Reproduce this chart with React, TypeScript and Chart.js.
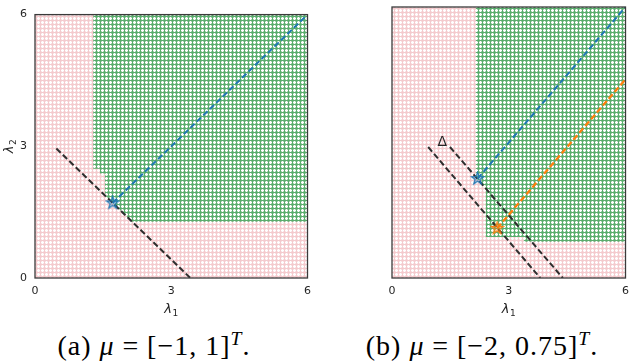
import React, { useEffect, useRef } from 'react';
import { Chart, registerables } from 'chart.js';

Chart.register(...registerables);

// ---------- data ----------
const AXIS_RANGE = [0, 6];
const TICK_VALUES = [0, 3, 6];
const FULL_REGION_TOP = [{ x: 0, y: 6 }, { x: 6, y: 6 }];
const X_TITLE = { base: 'λ', sub: '1' };
const Y_TITLE = { base: 'λ', sub: '2' };

// (a) mu = [-1, 1]^T
const leftGreenBoundary = [
  { x: 1.28, y: 2.49 }, { x: 1.43, y: 2.49 }, { x: 1.43, y: 2.38 }, { x: 1.54, y: 2.38 },
  { x: 1.54, y: 1.88 }, { x: 2.14, y: 1.28 }, { x: 6, y: 1.28 },
];
const leftLevelLine = [{ x: 0.47, y: 2.95 }, { x: 3.42, y: 0 }];
const leftOptimum = [{ x: 1.71, y: 1.71 }];
const leftPath = [{ x: 1.71, y: 1.71 }, { x: 6, y: 6 }];

// (b) mu = [-2, 0.75]^T
const rightGreenBoundary = [
  { x: 2.15, y: 2.17 }, { x: 2.3, y: 2.17 }, { x: 2.3, y: 2.05 }, { x: 2.41, y: 2.05 },
  { x: 2.41, y: 0.91 }, { x: 3.39, y: 0.91 }, { x: 3.39, y: 0.8 }, { x: 6, y: 0.8 },
];
const rightUpperLine = [{ x: 1.49, y: 2.9 }, { x: 4.39, y: 0 }];
const rightLowerLine = [{ x: 0.93, y: 2.9 }, { x: 3.81, y: 0 }];
const rightBlueOptimum = [{ x: 2.2, y: 2.2 }];
const rightBluePath = [{ x: 2.2, y: 2.2 }, { x: 6, y: 6 }];
const rightOrangeOptimum = [{ x: 2.7, y: 1.1 }];
const rightOrangePath = [{ x: 2.7, y: 1.1 }, { x: 6, y: 4.4 }];
const rightAnnotations = [{ x: 1.29, y: 3.01, text: 'Δ' }];

// ---------- styles ----------
const BLUE = '#1f77b4';
const ORANGE = '#ff7f0e';
const DARK = '#2e2e2e';
const GREEN = '#5aad6d';
const PINK = '#f4cbce';
const TEXT = '#262626';

function makePattern(color: string): CanvasPattern {
  const c = document.createElement('canvas');
  c.width = 4;
  c.height = 4;
  const g = c.getContext('2d')!;
  g.fillStyle = color;
  g.fillRect(0, 0, 4, 4);
  g.fillStyle = '#ffffff';
  g.fillRect(2, 1, 1, 3);
  g.fillRect(1, 2, 3, 1);
  g.fillStyle = 'rgba(255,255,255,0.45)';
  g.fillRect(1, 1, 1, 1);
  g.fillRect(3, 1, 1, 1);
  g.fillRect(1, 3, 1, 1);
  g.fillRect(3, 3, 1, 1);
  return g.createPattern(c, 'repeat')!;
}

function makeStar(stroke: string, fill: string): HTMLCanvasElement {
  const s = 15;
  const c = document.createElement('canvas');
  c.width = s;
  c.height = s;
  const g = c.getContext('2d')!;
  g.beginPath();
  for (let i = 0; i < 10; i++) {
    const r = i % 2 === 0 ? 6.5 : 2.6;
    const a = -Math.PI / 2 + (i * Math.PI) / 5;
    const px = s / 2 + r * Math.cos(a);
    const py = s / 2 + r * Math.sin(a);
    if (i === 0) g.moveTo(px, py);
    else g.lineTo(px, py);
  }
  g.closePath();
  g.fillStyle = fill;
  g.fill();
  g.strokeStyle = stroke;
  g.lineWidth = 1.2;
  g.stroke();
  return c;
}

function drawSubscripted(ctx: any, t: { base: string; sub: string }, x: number, y: number, rot: number) {
  ctx.save();
  ctx.translate(x, y);
  ctx.rotate(rot);
  ctx.fillStyle = TEXT;
  ctx.textBaseline = 'alphabetic';
  ctx.textAlign = 'left';
  const baseFont = 'italic 13px "DejaVu Sans"';
  const subFont = '9px "DejaVu Sans"';
  ctx.font = baseFont;
  const wb = ctx.measureText(t.base).width;
  ctx.font = subFont;
  const ws = ctx.measureText(t.sub).width;
  const total = wb + ws + 0.5;
  ctx.font = baseFont;
  ctx.fillText(t.base, -total / 2, 4);
  ctx.font = subFont;
  ctx.fillText(t.sub, -total / 2 + wb + 0.5, 7);
  ctx.restore();
}

const framePlugin = {
  id: 'frame',
  afterDraw(chart: any, _a: any, opts: any) {
    const { ctx, chartArea } = chart;
    const { left, top, right, bottom } = chartArea;
    ctx.save();
    ctx.strokeStyle = '#3a3a3a';
    ctx.lineWidth = 1.3;
    ctx.strokeRect(left, top, right - left, bottom - top);
    ctx.restore();
    drawSubscripted(ctx, X_TITLE, (left + right) / 2, 309, 0);
    if (opts && opts.yTitle) drawSubscripted(ctx, Y_TITLE, 9, (top + bottom) / 2, -Math.PI / 2);
  },
};

const annotationPlugin = {
  id: 'textAnnotations',
  afterDatasetsDraw(chart: any, _args: any, opts: any) {
    const items = (opts && opts.items) || [];
    const { ctx, scales } = chart;
    ctx.save();
    ctx.fillStyle = TEXT;
    ctx.font = '14px "DejaVu Sans"';
    ctx.textAlign = 'center';
    ctx.textBaseline = 'middle';
    for (const it of items) {
      ctx.fillText(it.text, scales.x.getPixelForValue(it.x), scales.y.getPixelForValue(it.y));
    }
    ctx.restore();
  },
};

function makeScales(showY: boolean) {
  const setTicks = (s: any) => {
    s.ticks = TICK_VALUES.map((v) => ({ value: v }));
  };
  return {
    x: {
      type: 'linear',
      min: AXIS_RANGE[0],
      max: AXIS_RANGE[1],
      afterBuildTicks: setTicks,
      afterFit: (s: any) => {
        s.height = 42;
      },
      grid: { display: false, drawTicks: false },
      border: { display: false },
      ticks: {
        padding: 7,
        color: TEXT,
        font: { family: 'DejaVu Sans', size: 11 },
        callback: (v: any) => String(v),
        autoSkip: false,
        maxRotation: 0,
      },
      title: { display: false },
    },
    y: {
      type: 'linear',
      display: showY,
      min: AXIS_RANGE[0],
      max: AXIS_RANGE[1],
      afterBuildTicks: setTicks,
      afterFit: (s: any) => {
        s.width = 35;
      },
      grid: { display: false, drawTicks: false },
      border: { display: false },
      ticks: {
        padding: 8,
        color: TEXT,
        font: { family: 'DejaVu Sans', size: 11 },
        callback: (v: any) => String(v),
        autoSkip: false,
      },
      title: { display: false },
    },
  };
}

function regionDatasets(pink: CanvasPattern, green: CanvasPattern, boundary: any[]) {
  return [
    {
      data: FULL_REGION_TOP,
      fill: 'start',
      backgroundColor: pink,
      borderColor: 'transparent',
      borderWidth: 0,
      pointRadius: 0,
      order: 10,
    },
    {
      data: boundary,
      fill: 'end',
      backgroundColor: green,
      borderColor: 'transparent',
      borderWidth: 0,
      pointRadius: 0,
      order: 9,
    },
  ];
}

function dashed(data: any[], color: string, width: number, order: number) {
  return {
    data,
    borderColor: color,
    borderWidth: width,
    borderDash: [6, 3],
    pointRadius: 0,
    fill: false,
    order,
  };
}

function marker(data: any[], img: HTMLCanvasElement) {
  return {
    data,
    showLine: false,
    pointStyle: img,
    pointRadius: 6,
    order: 1,
  };
}

function buildConfig(datasets: any[], showY: boolean, padding: any, annotations: any[]) {
  return {
    type: 'line',
    data: { datasets },
    options: {
      animation: false,
      responsive: false,
      devicePixelRatio: 1,
      events: [],
      layout: { padding },
      scales: makeScales(showY),
      elements: { line: { tension: 0 } },
      plugins: {
        legend: { display: false },
        tooltip: { enabled: false },
        textAnnotations: { items: annotations },
        frame: { yTitle: showY },
      },
    },
    plugins: [framePlugin, annotationPlugin],
  } as any;
}

export default function App() {
  const leftRef = useRef<HTMLCanvasElement>(null);
  const rightRef = useRef<HTMLCanvasElement>(null);

  useEffect(() => {
    const pink = makePattern(PINK);
    const green = makePattern(GREEN);
    const blueStar = makeStar(BLUE, 'rgba(31,119,180,0.25)');
    const orangeStar = makeStar(ORANGE, 'rgba(255,127,14,0.3)');

    const left = new Chart(
      leftRef.current!,
      buildConfig(
        [
          ...regionDatasets(pink, green, leftGreenBoundary),
          dashed(leftLevelLine, DARK, 2, 3),
          dashed(leftPath, BLUE, 2, 2),
          marker(leftOptimum, blueStar),
        ],
        true,
        { left: 0, top: 6, right: 10, bottom: 0 },
        []
      )
    );
    const right = new Chart(
      rightRef.current!,
      buildConfig(
        [
          ...regionDatasets(pink, green, rightGreenBoundary),
          dashed(rightUpperLine, DARK, 2, 3),
          dashed(rightLowerLine, DARK, 2, 3),
          dashed(rightBluePath, BLUE, 2, 2),
          dashed(rightOrangePath, ORANGE, 2.3, 2),
          marker(rightBlueOptimum, blueStar),
          marker(rightOrangeOptimum, orangeStar),
        ],
        false,
        { left: 39, top: 6, right: 5, bottom: 0 },
        rightAnnotations
      )
    );
    return () => {
      left.destroy();
      right.destroy();
    };
  }, []);

  const captionStyle: React.CSSProperties = {
    position: 'absolute',
    top: 330,
    textAlign: 'center',
    fontFamily: '"Liberation Serif", serif',
    fontSize: 28,
    letterSpacing: '1px',
    lineHeight: '32px',
    color: '#000',
    whiteSpace: 'nowrap',
  };
  const sup: React.CSSProperties = { fontSize: '0.7em', position: 'relative', top: '-0.5em', fontStyle: 'italic' };
  const rel: React.CSSProperties = { margin: '0 0.28em' };

  return (
    <div style={{ position: 'absolute', left: 0, top: 0, width: 636, height: 364, background: '#fff', overflow: 'hidden' }}>
      <canvas ref={leftRef} width={318} height={320} style={{ position: 'absolute', left: 0, top: 0 }} />
      <canvas ref={rightRef} width={318} height={320} style={{ position: 'absolute', left: 318, top: 0 }} />
      <div style={{ ...captionStyle, left: 0, width: 308 }}>
        (a) <i>μ</i><span style={rel}>=</span>[−1, 1]<span style={sup}>T</span>.
      </div>
      <div style={{ ...captionStyle, left: 328, width: 308 }}>
        (b) <i>μ</i><span style={rel}>=</span>[−2, 0.75]<span style={sup}>T</span>.
      </div>
    </div>
  );
}
